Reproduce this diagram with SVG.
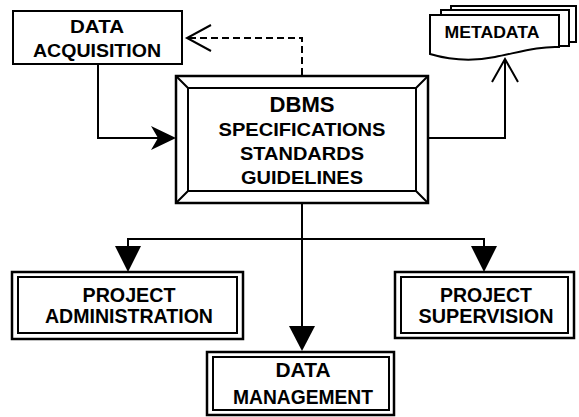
<svg xmlns="http://www.w3.org/2000/svg" width="579" height="417" viewBox="0 0 579 417">
<defs>
<style>
.t{font-family:"Liberation Sans",Arial,sans-serif;font-weight:bold;fill:#000;text-anchor:middle}
.box{fill:#fff;stroke:#000;stroke-width:2}
.ob{fill:#fff;stroke:#000;stroke-width:2.5}
.ln{fill:none;stroke:#000;stroke-width:2}
</style>
</defs>
<rect width="579" height="417" fill="#fff"/>
<g id="connectors">
<polyline class="ln" points="98,64 98,138 160,138"/>
<path d="M176,138 L151,126 L158,138 L151,150 Z" fill="#000"/>
<polyline class="ln" points="302,75 302,38 188,38" stroke-dasharray="7,4"/>
<polyline class="ln" points="211,25 187,38 211,51"/>
<polyline class="ln" points="428,138 505,138 505,60"/>
<polyline class="ln" points="492,82 505,59 518,82"/>
<line class="ln" x1="302" y1="203" x2="302" y2="330" stroke-width="2.5"/>
<path d="M289,326 L315,326 L302,351 Z" fill="#000"/>
<polyline class="ln" points="128,249 128,239 484,239 484,249" stroke-width="1.6"/>
<path d="M115,246 L141,246 L128,272 Z" fill="#000"/>
<path d="M471,246 L497,246 L484,272 Z" fill="#000"/>
</g>
<g id="data-acquisition">
<rect class="box" x="13" y="11" width="169" height="53"/>
<text class="t" x="97" y="33" font-size="18.5" textLength="54" lengthAdjust="spacingAndGlyphs">DATA</text>
<text class="t" x="97" y="57" font-size="18.5" textLength="128" lengthAdjust="spacingAndGlyphs">ACQUISITION</text>
</g>
<g id="dbms">
<rect class="ob" x="176" y="76" width="252" height="127"/>
<rect class="box" x="188" y="88" width="228" height="103"/>
<path class="ln" d="M176,76 L188,88 M428,76 L416,88 M176,203 L188,191 M428,203 L416,191"/>
<text class="t" x="302" y="112" font-size="22" textLength="65" lengthAdjust="spacingAndGlyphs">DBMS</text>
<text class="t" x="302" y="136" font-size="19" textLength="167" lengthAdjust="spacingAndGlyphs">SPECIFICATIONS</text>
<text class="t" x="302" y="160" font-size="19" textLength="124" lengthAdjust="spacingAndGlyphs">STANDARDS</text>
<text class="t" x="302" y="184" font-size="19" textLength="122" lengthAdjust="spacingAndGlyphs">GUIDELINES</text>
</g>
<g id="metadata">
<rect class="box" x="451" y="6" width="125" height="36"/>
<rect class="box" x="441" y="10" width="128" height="36"/>
<path class="box" d="M430,15 H559 V47 C540,46 520,52 495,57 C470,62 450,60 430,54 Z"/>
<text class="t" x="492" y="38" font-size="16.5" textLength="95" lengthAdjust="spacingAndGlyphs">METADATA</text>
</g>
<g id="project-administration">
<rect class="ob" x="12" y="272" width="231" height="67"/>
<rect class="box" x="18" y="277" width="219" height="56"/>
<text class="t" x="129" y="302" font-size="20" textLength="93" lengthAdjust="spacingAndGlyphs">PROJECT</text>
<text class="t" x="129" y="323" font-size="20" textLength="168" lengthAdjust="spacingAndGlyphs">ADMINISTRATION</text>
</g>
<g id="project-supervision">
<rect class="ob" x="395" y="272" width="179" height="66"/>
<rect class="box" x="401" y="277" width="167" height="56"/>
<text class="t" x="486" y="302" font-size="20" textLength="92" lengthAdjust="spacingAndGlyphs">PROJECT</text>
<text class="t" x="486" y="323" font-size="20" textLength="135" lengthAdjust="spacingAndGlyphs">SUPERVISION</text>
</g>
<g id="data-management">
<rect class="ob" x="207" y="352" width="187" height="63"/>
<rect class="box" x="213" y="357" width="176" height="53"/>
<text class="t" x="303" y="377" font-size="20" textLength="55" lengthAdjust="spacingAndGlyphs">DATA</text>
<text class="t" x="303" y="404" font-size="20" textLength="140" lengthAdjust="spacingAndGlyphs">MANAGEMENT</text>
</g>
</svg>
